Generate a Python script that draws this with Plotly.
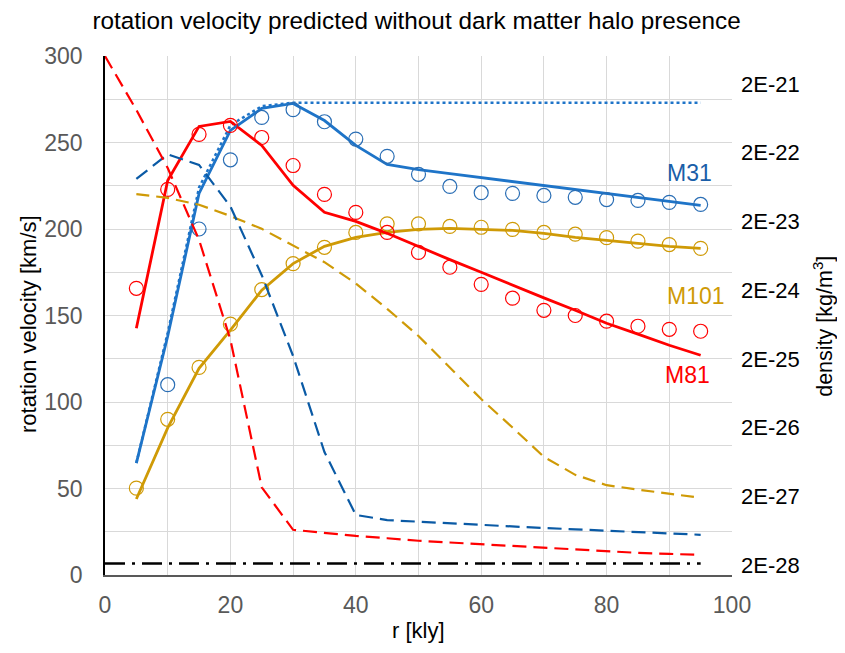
import plotly.graph_objects as go

# ---------------- data ----------------
r_obs = [5, 10, 15, 20, 25, 30, 35, 40, 45, 50, 55, 60, 65, 70, 75, 80, 85, 90, 95]
r_m31_obs = [10, 15, 20, 25, 30, 35, 40, 45, 50, 55, 60, 65, 70, 75, 80, 85, 90, 95]
v_m31_obs = [110, 200, 240, 264.5, 269, 262, 252, 242, 231.6, 224.6, 221, 220.6, 219.4, 218.3, 217, 216.5, 215.4, 214.2]
v_m81_obs = [165.7, 222.9, 254.7, 259.9, 252.9, 236.7, 220, 209.6, 198, 186.5, 177.9, 168, 160, 153, 150, 146.7, 143.8, 142, 140.9]
v_m101_obs = [50.2, 90, 120, 145, 165, 180, 189.4, 198, 203, 203, 201.5, 201, 199.8, 198, 197, 195, 193, 191, 188.8]

r_model = [5, 10, 15, 20, 25, 30, 35, 40, 45, 50, 55, 60, 65, 70, 75, 80, 85, 90, 95]
v_m31_model = [64.7, 138, 220.6, 257, 269.7, 272.6, 262.7, 248.3, 237.3, 234.3, 232, 229.7, 227.4, 225.2, 222.9, 220.6, 218.3, 216, 213.7]
v_m31_dotted = [64.7, 140, 224, 260, 271, 273, 273, 273, 273, 273, 273, 273, 273, 273, 273, 273, 273, 273, 273]
v_m81_model = [142.6, 228, 259.3, 262.2, 248.3, 225.2, 209.7, 204.4, 197.5, 189.8, 182.3, 175, 167.5, 160.2, 153, 145.5, 139.2, 132.8, 127]
v_m101_model = [43.9, 85, 119.5, 141.5, 164.6, 180, 190, 195.2, 198, 199.8, 200.4, 199.8, 199.2, 197.5, 195.2, 193.4, 191.7, 190, 188.8]

r_m81_rho = [0, 5, 10, 15, 20, 25, 30, 35, 40, 45, 50, 55, 60, 65, 70, 75, 80, 85, 90, 95]
rho_m81 = [5.1e-21, 8.4e-22, 1.2e-22, 1.08e-23, 3.8e-25, 2.7e-27, 6.5e-28, 5.8e-28, 5.3e-28, 4.9e-28,
           4.5e-28, 4.25e-28, 4.0e-28, 3.8e-28, 3.6e-28, 3.4e-28, 3.2e-28, 3.0e-28, 2.9e-28, 2.8e-28]
rho_m31 = [8.3e-23, 1.9e-22, 1.33e-22, 3.3e-23, 3.3e-24, 2.2e-25, 8.8e-27, 1.07e-27, 9.0e-28, 8.5e-28,
           8.0e-28, 7.6e-28, 7.3e-28, 6.9e-28, 6.6e-28, 6.3e-28, 6.0e-28, 5.7e-28, 5.5e-28]
rho_m101 = [5.0e-23, 4.4e-23, 3.5e-23, 2.4e-23, 1.56e-23, 8.8e-24, 5.1e-24, 2.5e-24, 1.07e-24, 4.3e-25,
            1.5e-25, 5.2e-26, 2.0e-26, 7.5e-27, 4.1e-27, 2.9e-27, 2.5e-27, 2.2e-27, 1.9e-27]
r_ref = [0, 95]
rho_ref = [2.1e-28, 2.1e-28]

x_ticks = [0, 20, 40, 60, 80, 100]
y_ticks = [0, 50, 100, 150, 200, 250, 300]
rho_ticks = [2e-28, 2e-27, 2e-26, 2e-25, 2e-24, 2e-23, 2e-22, 2e-21]
rho_tick_text = ["2E-28", "2E-27", "2E-26", "2E-25", "2E-24", "2E-23", "2E-22", "2E-21"]

# ---------------- style ----------------
BLUE = "#1E74C8"
BLUE_D = "#0A5AA5"
BLUE_C = "#2A6EB5"
GOLD = "#CF9A06"
RED = "#FF0000"
FONT = "Liberation Sans, Arial, sans-serif"
GRID = "#D9D9D9"

fig = go.Figure()

# density curves (right axis)
fig.add_trace(go.Scatter(x=r_ref, y=rho_ref, yaxis="y2", mode="lines",
                         line=dict(color="black", width=2.5, dash="20px,7px,3px,7px")))
fig.add_trace(go.Scatter(x=r_model, y=rho_m101, yaxis="y2", mode="lines",
                         line=dict(color=GOLD, width=2.2, dash="13px,7px")))
fig.add_trace(go.Scatter(x=r_model, y=rho_m31, yaxis="y2", mode="lines",
                         line=dict(color=BLUE_D, width=2.2, dash="14px,7px")))
fig.add_trace(go.Scatter(x=r_m81_rho, y=rho_m81, yaxis="y2", mode="lines",
                         line=dict(color=RED, width=2.2, dash="14px,7px")))

# model velocity curves
fig.add_trace(go.Scatter(x=r_model, y=v_m31_dotted, mode="lines",
                         line=dict(color=BLUE, width=2.5, dash="3px,3px")))
fig.add_trace(go.Scatter(x=r_model, y=v_m101_model, mode="lines",
                         line=dict(color=GOLD, width=2.8)))
fig.add_trace(go.Scatter(x=r_model, y=v_m81_model, mode="lines",
                         line=dict(color=RED, width=2.8)))
fig.add_trace(go.Scatter(x=r_model, y=v_m31_model, mode="lines",
                         line=dict(color=BLUE, width=2.8)))

# observed points
fig.add_trace(go.Scatter(x=r_obs, y=v_m101_obs, mode="markers",
                         marker=dict(symbol="circle-open", size=14, color=GOLD, line=dict(width=1.2))))
fig.add_trace(go.Scatter(x=r_obs, y=v_m81_obs, mode="markers",
                         marker=dict(symbol="circle-open", size=14, color=RED, line=dict(width=1.2))))
fig.add_trace(go.Scatter(x=r_m31_obs, y=v_m31_obs, mode="markers",
                         marker=dict(symbol="circle-open", size=14, color=BLUE_C, line=dict(width=1.2))))

ann = [
    dict(x=93.3, y=232.4, xref="x", yref="y", text="M31", showarrow=False,
         xanchor="center", yanchor="middle",
         font=dict(size=23, color="#1A5EA8", family=FONT)),
    dict(x=94.3, y=161.1, xref="x", yref="y", text="M101", showarrow=False,
         xanchor="center", yanchor="middle",
         font=dict(size=23, color=GOLD, family=FONT)),
    dict(x=92.9, y=115.5, xref="x", yref="y", text="M81", showarrow=False,
         xanchor="center", yanchor="middle",
         font=dict(size=23, color=RED, family=FONT)),
    dict(x=-0.1228, y=0.4836, xref="paper", yref="paper", text="rotation velocity [km/s]",
         xanchor="center", yanchor="middle",
         textangle=-90, showarrow=False, font=dict(size=22, color="black", family=FONT)),
    dict(x=1.145, y=0.48, xref="paper", yref="paper", text="density [kg/m<sup>3</sup>]",
         xanchor="center", yanchor="middle",
         textangle=-90, showarrow=False, font=dict(size=21.5, color="black", family=FONT)),
    dict(x=0.5, y=-0.106, xref="paper", yref="paper", text="r [kly]",
         xanchor="center", yanchor="middle",
         showarrow=False, font=dict(size=22, color="black", family=FONT)),
]

# the page body adds an 8px margin on every side, so the figure is 16px smaller
fig.update_layout(
    width=829, height=637,
    margin=dict(l=97, r=105, t=48, b=70),
    paper_bgcolor="white", plot_bgcolor="white",
    showlegend=False,
    font=dict(family=FONT),
    title=dict(text="rotation velocity predicted without dark matter halo presence",
               x=0.4928, xanchor="center", y=1 - 12 / 637, yanchor="middle",
               font=dict(size=24.3, color="black", family=FONT)),
    xaxis=dict(range=[0, 100], tickmode="array", tickvals=x_ticks,
               showgrid=True, gridcolor=GRID, gridwidth=1.3,
               minor=dict(dtick=10, tick0=0, showgrid=True, gridcolor=GRID, gridwidth=1.3),
               showline=True, linecolor="#595959", linewidth=2, zeroline=False,
               ticks="", tickfont=dict(size=23, color="#595959", family=FONT),
               ticklabelstandoff=8),
    yaxis=dict(range=[0, 300], tickmode="array", tickvals=y_ticks,
               showgrid=True, gridcolor=GRID, gridwidth=1.3,
               minor=dict(dtick=25, tick0=0, showgrid=True, gridcolor=GRID, gridwidth=1.3),
               showline=True, linecolor="black", linewidth=1.5, zeroline=False,
               ticks="", tickfont=dict(size=23, color="#595959", family=FONT),
               ticklabelstandoff=16),
    yaxis2=dict(type="log", overlaying="y", side="right",
                range=[-27.845, -20.291], tickmode="array", tickvals=rho_ticks,
                ticktext=rho_tick_text, showgrid=False, showline=False, zeroline=False,
                ticks="", tickfont=dict(size=22, color="black", family=FONT),
                ticklabelstandoff=8),
    annotations=ann,
)

fig.write_html("out.html")
